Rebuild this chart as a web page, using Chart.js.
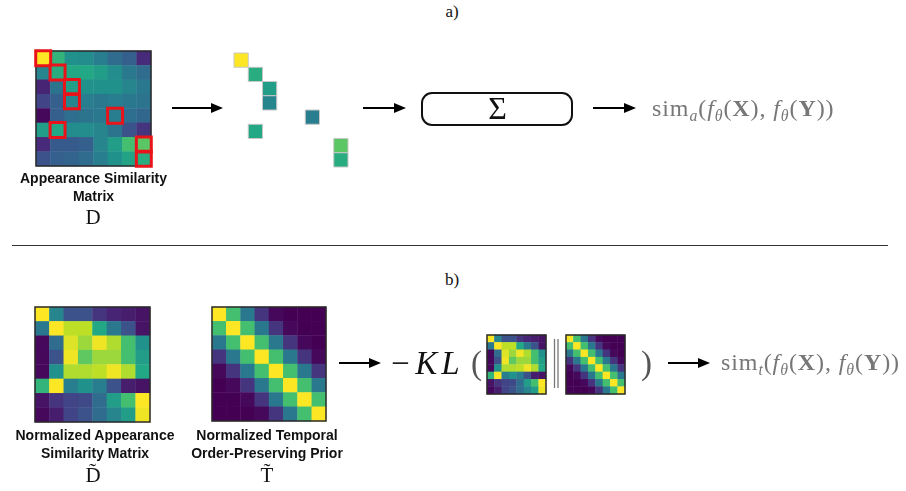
<!DOCTYPE html>
<html>
<head>
<meta charset="utf-8">
<script src="https://cdn.jsdelivr.net/npm/chart.js@4.4.1/dist/chart.umd.min.js"></script>
<style>
body { margin: 0; background: #fff; }
#page { position: relative; width: 906px; height: 491px; overflow: hidden; font-family: "Liberation Serif", "DejaVu Serif", serif; color: #111; }
.abs { position: absolute; }
canvas.hm { position: absolute; }
.cap { position: absolute; font-family: "Liberation Sans", Arial, sans-serif; font-weight: bold; font-size: 14px; line-height: 18px; text-align: center; color: #111; white-space: nowrap; }
.sym { position: absolute; font-size: 21px; line-height: 24px; text-align: center; }
.sim { position: absolute; font-size: 24px; line-height: 28px; letter-spacing: 0.9px; color: #777; white-space: nowrap; }
.sim sub { font-size: 0.66em; vertical-align: -0.3em; line-height: 0; }
.panel { position: absolute; font-size: 17px; line-height: 20px; text-align: center; width: 40px; }
</style>
</head>
<body>
<div id="page">
  <div class="panel" style="left:432px;top:2px;">a)</div>
  <div class="panel" style="left:432px;top:270px;">b)</div>

  <canvas id="simD" class="hm" width="121" height="121" style="left:33px;top:48px;"></canvas>
  <canvas id="picked" class="hm" width="120" height="120" style="left:231px;top:50px;"></canvas>
  <canvas id="normD" class="hm" width="121" height="121" style="left:32px;top:304px;"></canvas>
  <canvas id="priorT" class="hm" width="120" height="120" style="left:209px;top:304px;"></canvas>
  <canvas id="normDsmall" class="hm" width="65" height="65" style="left:484px;top:332px;"></canvas>
  <canvas id="priorTsmall" class="hm" width="65" height="65" style="left:563px;top:332px;"></canvas>

  <svg class="abs" width="906" height="491" style="left:0;top:0;">
    <g stroke="#000" stroke-width="2">
      <line x1="172" y1="108" x2="213" y2="108"/>
      <line x1="363" y1="108" x2="396" y2="108"/>
      <line x1="593" y1="108" x2="626" y2="108"/>
      <line x1="339" y1="363" x2="371" y2="363"/>
      <line x1="668" y1="363" x2="700" y2="363"/>
    </g>
    <g fill="#000">
      <polygon points="223,108 211,103 211,113"/>
      <polygon points="406,108 394,103 394,113"/>
      <polygon points="636,108 624,103 624,113"/>
      <polygon points="381,363 369,358 369,368"/>
      <polygon points="710,363 698,358 698,368"/>
    </g>
    <line x1="12" y1="245.5" x2="888" y2="245.5" stroke="#333" stroke-width="1"/>
    <g stroke="#777" stroke-width="1.3">
      <line x1="554.5" y1="339" x2="554.5" y2="388"/>
      <line x1="558" y1="339" x2="558" y2="388"/>
    </g>
  </svg>

  <div class="abs" style="left:421px;top:92px;width:148px;height:30px;border:2.5px solid #111;border-radius:11px;"></div>
  <div class="abs" style="left:421px;top:88px;width:153px;text-align:center;font-size:32px;line-height:40px;">&Sigma;</div>

  <div class="sim" style="left:652px;top:94px;">sim<sub><i>a</i></sub>(<i>f</i><sub><i>&theta;</i></sub>(<b>X</b>), <i>f</i><sub><i>&theta;</i></sub>(<b>Y</b>))</div>
  <div class="sim" style="left:721px;top:348px;">sim<sub><i>t</i></sub>(<i>f</i><sub><i>&theta;</i></sub>(<b>X</b>), <i>f</i><sub><i>&theta;</i></sub>(<b>Y</b>))</div>

  <div class="abs" style="left:389px;top:343px;font-size:33px;line-height:40px;font-style:italic;letter-spacing:4px;">&minus;KL</div>
  <div class="abs" style="left:471px;top:343px;font-size:33px;line-height:40px;color:#555;">(</div>
  <div class="abs" style="left:641px;top:343px;font-size:33px;line-height:40px;color:#555;">)</div>

  <div class="cap" style="left:0px;top:169px;width:187px;">Appearance Similarity<br>Matrix</div>
  <div class="sym" style="left:73px;top:205px;width:40px;">D</div>

  <div class="cap" style="left:0px;top:426px;width:190px;">Normalized Appearance<br>Similarity Matrix</div>
  <div class="sym" style="left:73px;top:463px;width:40px;">D&#771;</div>
  <div class="cap" style="left:175px;top:426px;width:184px;">Normalized Temporal<br>Order-Preserving Prior</div>
  <div class="sym" style="left:247px;top:463px;width:40px;">T&#771;</div>
</div>

<script>
// 8x8 appearance similarity matrix D (row = frame of X, col = frame of Y)
const appearanceSim = [
  [1.00, 0.65, 0.50, 0.48, 0.42, 0.35, 0.30, 0.12],
  [0.45, 0.62, 0.60, 0.60, 0.55, 0.48, 0.40, 0.35],
  [0.10, 0.38, 0.55, 0.50, 0.50, 0.50, 0.45, 0.40],
  [0.20, 0.30, 0.45, 0.42, 0.40, 0.42, 0.40, 0.38],
  [0.02, 0.30, 0.36, 0.38, 0.40, 0.42, 0.36, 0.33],
  [0.55, 0.60, 0.48, 0.48, 0.45, 0.38, 0.25, 0.15],
  [0.12, 0.28, 0.28, 0.30, 0.45, 0.55, 0.70, 0.74],
  [0.25, 0.30, 0.32, 0.35, 0.42, 0.50, 0.58, 0.62]
];

// row-normalized version
const normAppearance = [
  [1.00, 0.45, 0.25, 0.25, 0.15, 0.10, 0.08, 0.05],
  [0.40, 1.00, 0.90, 0.90, 0.60, 0.40, 0.25, 0.05],
  [0.02, 0.35, 0.95, 0.85, 0.98, 0.88, 0.70, 0.50],
  [0.02, 0.25, 0.98, 0.75, 0.85, 0.85, 0.70, 0.55],
  [0.02, 0.50, 0.88, 0.88, 0.90, 0.98, 0.88, 0.60],
  [0.65, 1.00, 0.42, 0.50, 0.42, 0.25, 0.08, 0.05],
  [0.05, 0.15, 0.20, 0.22, 0.35, 0.55, 0.70, 1.00],
  [0.02, 0.08, 0.20, 0.25, 0.35, 0.45, 0.55, 0.98]
];

// temporal order-preserving prior
const temporalPrior = [
  [1.00, 0.70, 0.40, 0.15, 0.02, 0.00, 0.00, 0.00],
  [0.70, 1.00, 0.70, 0.40, 0.15, 0.02, 0.00, 0.00],
  [0.40, 0.70, 1.00, 0.70, 0.40, 0.15, 0.02, 0.00],
  [0.15, 0.40, 0.70, 1.00, 0.70, 0.40, 0.15, 0.02],
  [0.02, 0.15, 0.40, 0.70, 1.00, 0.70, 0.40, 0.15],
  [0.00, 0.02, 0.15, 0.40, 0.70, 1.00, 0.70, 0.40],
  [0.00, 0.00, 0.02, 0.15, 0.40, 0.70, 1.00, 0.70],
  [0.00, 0.00, 0.00, 0.02, 0.15, 0.40, 0.70, 1.00]
];

// cells picked out of D (red boxes)
const pickedRows = [0, 1, 2, 3, 4, 5, 6, 7];
const pickedCols = [0, 1, 2, 2, 5, 1, 7, 7];

// viridis colour stops
const viridisStops = ['#440154', '#482475', '#414487', '#355f8d', '#2a788e', '#21918c',
                      '#22a884', '#44bf70', '#7ad151', '#bddf26', '#fde725'];

function hexRgb(h) {
    return [parseInt(h.slice(1, 3), 16), parseInt(h.slice(3, 5), 16), parseInt(h.slice(5, 7), 16)];
}
function viridis(v) {
    v = Math.max(0, Math.min(1, v));
    const p = v * (viridisStops.length - 1);
    const i = Math.min(Math.floor(p), viridisStops.length - 2);
    const t = p - i;
    const a = hexRgb(viridisStops[i]), b = hexRgb(viridisStops[i + 1]);
    return 'rgb(' + a.map((c, k) => Math.round(c + (b[k] - c) * t)).join(',') + ')';
}

function toPoints(matrix) {
    const pts = [];
    matrix.forEach((row, r) => row.forEach((v, c) => pts.push({x: c, y: r, v: v})));
    return pts;
}

// rect point side = sqrt(2) * radius, so size the radius to fill one cell
function cellRadius(ctx, extra) {
    const s = ctx.chart.scales.x;
    return Math.abs(s.getPixelForValue(1) - s.getPixelForValue(0)) / Math.SQRT2 + extra;
}

function cellDataset(points, border) {
    return {
        data: points,
        pointStyle: 'rect',
        pointRadius: ctx => cellRadius(ctx, border ? 0 : 0.3),
        backgroundColor: ctx => viridis(ctx.raw.v),
        borderColor: border || 'rgba(0,0,0,0)',
        borderWidth: border ? 1 : 0,
        clip: false
    };
}

// draw the dark frame right after the heatmap cells
Chart.register({
    id: 'frame',
    afterDatasetDraw: function(chart, args, options) {
        if (!options.show || args.index !== chart.data.datasets.length - 1) return;
        const a = chart.chartArea;
        const ctx = chart.ctx;
        ctx.save();
        ctx.strokeStyle = options.color || '#333';
        ctx.lineWidth = options.width || 1.5;
        ctx.strokeRect(a.left, a.top, a.right - a.left, a.bottom - a.top);
        ctx.restore();
    }
});

function heatmap(id, datasets, framed) {
    return new Chart(document.getElementById(id), {
        type: 'scatter',
        data: {datasets: datasets},
        options: {
            responsive: false,
            animation: false,
            events: [],
            layout: {padding: 3},
            plugins: {
                legend: {display: false},
                tooltip: {enabled: false},
                frame: {show: framed, color: '#2a2a2a', width: 1.5}
            },
            scales: {
                x: {type: 'linear', min: -0.5, max: 7.5, display: false},
                y: {type: 'linear', min: -0.5, max: 7.5, reverse: true, display: false}
            }
        }
    });
}

const pickedPoints = pickedRows.map((r, i) => ({x: pickedCols[i], y: r, v: appearanceSim[r][pickedCols[i]]}));

heatmap('simD', [
    {
        data: pickedPoints,
        pointStyle: 'rect',
        pointRadius: ctx => cellRadius(ctx, 0.4),
        backgroundColor: 'rgba(0,0,0,0)',
        borderColor: '#e8141a',
        borderWidth: 3,
        clip: false
    },
    cellDataset(toPoints(appearanceSim))
], true);

heatmap('picked', [cellDataset(pickedPoints, '#c8c8c8')], false);
heatmap('normD', [cellDataset(toPoints(normAppearance))], true);
heatmap('priorT', [cellDataset(toPoints(temporalPrior))], true);
heatmap('normDsmall', [cellDataset(toPoints(normAppearance))], true);
heatmap('priorTsmall', [cellDataset(toPoints(temporalPrior))], true);
</script>
</body>
</html>
